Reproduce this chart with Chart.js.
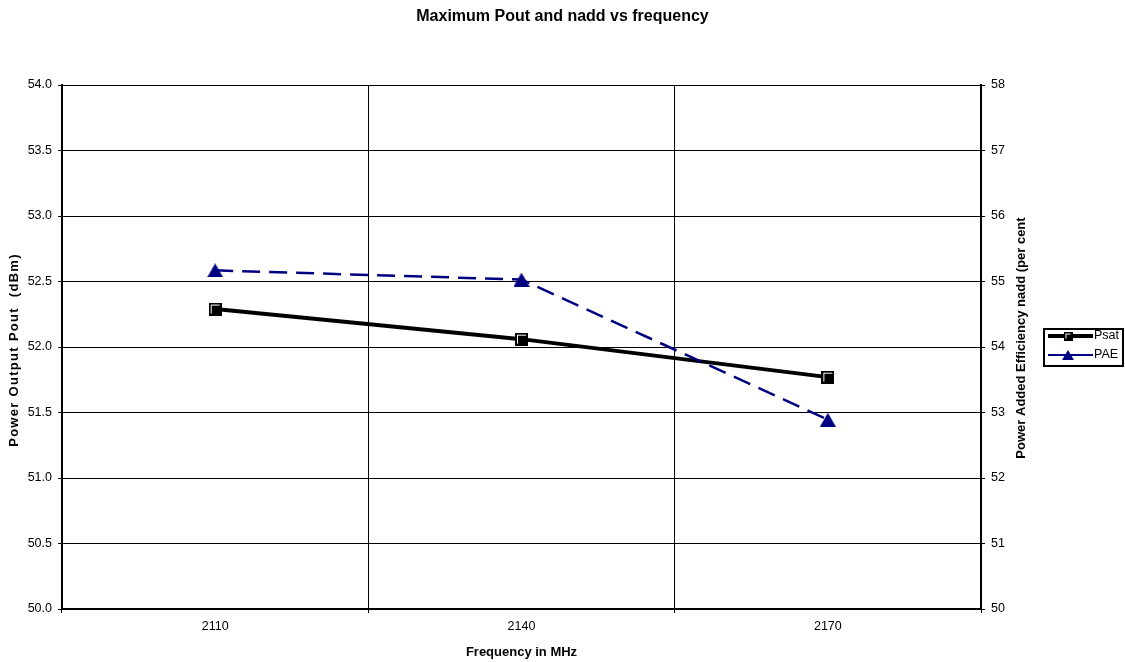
<!DOCTYPE html>
<html>
<head>
<meta charset="utf-8">
<script src="https://cdn.jsdelivr.net/npm/chart.js@4.4.1/dist/chart.umd.min.js"></script>
<style>
  html, body { margin: 0; padding: 0; background: #fff; }
  #wrap { width: 1125px; height: 662px; }
  canvas { display: block; }
</style>
</head>
<body>
<div id="wrap"><canvas id="chart" width="1125" height="662" style="width:1125px;height:662px"></canvas></div>
<script>
// Frequency points (MHz)
const frequencies = ['2110', '2140', '2170'];
// Saturated output power, dBm (left axis)
const psatValues = [52.29, 52.06, 51.77];
// Power added efficiency, per cent (right axis)
const paeValues = [55.17, 55.03, 52.89];
const seriesNames = ['Psat', 'PAE'];

const chartTitle = 'Maximum Pout and nadd vs frequency';
const xTitle = 'Frequency in MHz';
const leftTitle = 'Power Output Pout  (dBm)';
const rightTitle = 'Power Added Efficiency nadd (per cent';

const FONT = "'Liberation Sans', Arial, Helvetica, sans-serif";
const NAVY = '#000080';

Chart.defaults.font.family = FONT;
Chart.defaults.color = '#000';

// Square marker: black with a thin white inner edge on top and left
function squareMarker(size) {
  const c = document.createElement('canvas');
  c.width = size; c.height = size;
  const g = c.getContext('2d');
  g.fillStyle = '#000';
  g.fillRect(0, 0, size, size);
  g.fillStyle = '#fff';
  g.fillRect(2, 2, size - 4, 1);
  g.fillRect(2, 2, 1, size - 4);
  return c;
}

// Filled triangle marker, centred on its bounding box
function triangleMarker(w, h, color) {
  const c = document.createElement('canvas');
  c.width = w; c.height = h;
  const g = c.getContext('2d');
  g.fillStyle = color;
  g.beginPath();
  g.moveTo(w / 2, 0);
  g.lineTo(w, h);
  g.lineTo(0, h);
  g.closePath();
  g.fill();
  return c;
}

const psatMarker = squareMarker(13);
const paeMarker = triangleMarker(16, 14, NAVY);
const psatLegendMarker = squareMarker(9);
const paeLegendMarker = triangleMarker(12, 10, NAVY);

// Rotated (bottom-to-top) axis title
function verticalTitle(ctx, text, x, y, spacing) {
  ctx.save();
  ctx.fillStyle = '#000';
  ctx.font = 'bold 13px ' + FONT;
  if ('letterSpacing' in ctx) ctx.letterSpacing = spacing + 'px';
  ctx.textAlign = 'center';
  ctx.textBaseline = 'middle';
  ctx.translate(x, y);
  ctx.rotate(-Math.PI / 2);
  ctx.fillText(text, 0, 0);
  ctx.restore();
}

// Both y-axis titles and the boxed legend
const extras = {
  id: 'extras',
  afterDraw(chart) {
    const ctx = chart.ctx;
    verticalTitle(ctx, leftTitle, 14, 350, 1.3);
    verticalTitle(ctx, rightTitle, 1021, 338, 0);

    ctx.save();
    ctx.fillStyle = '#fff';
    ctx.fillRect(1044, 329, 79, 37);
    ctx.strokeStyle = '#000';
    ctx.lineWidth = 2;
    ctx.strokeRect(1044, 329, 79, 37);

    const ds = chart.data.datasets;
    const rows = [
      { y: 336, ds: ds[0], width: 4, marker: psatLegendMarker },
      { y: 355, ds: ds[1], width: 2, marker: paeLegendMarker }
    ];
    ctx.font = '12.5px ' + FONT;
    ctx.textAlign = 'left';
    ctx.textBaseline = 'middle';
    rows.forEach(r => {
      ctx.strokeStyle = r.ds.borderColor;
      ctx.lineWidth = r.width;
      ctx.setLineDash([]);
      ctx.beginPath();
      ctx.moveTo(1048, r.y);
      ctx.lineTo(1093, r.y);
      ctx.stroke();
      ctx.drawImage(r.marker, 1068 - r.marker.width / 2, r.y - r.marker.height / 2);
      ctx.fillStyle = '#000';
      ctx.fillText(r.ds.label, 1094, r.y);
    });
    ctx.restore();
  }
};

new Chart(document.getElementById('chart'), {
  type: 'line',
  data: {
    labels: frequencies,
    datasets: [
      {
        label: seriesNames[0],
        data: psatValues,
        yAxisID: 'y',
        borderColor: '#000',
        backgroundColor: '#000',
        borderWidth: 4,
        tension: 0,
        pointStyle: psatMarker,
        pointRadius: 6,
        order: 2
      },
      {
        label: seriesNames[1],
        data: paeValues,
        yAxisID: 'y2',
        borderColor: NAVY,
        backgroundColor: NAVY,
        borderWidth: 2.5,
        borderDash: [18, 9],
        tension: 0,
        pointStyle: paeMarker,
        pointRadius: 8,
        order: 1
      }
    ]
  },
  options: {
    responsive: false,
    animation: false,
    devicePixelRatio: 1,
    layout: { padding: 0 },
    plugins: {
      legend: { display: false },
      tooltip: { enabled: false },
      title: {
        display: true,
        text: chartTitle,
        color: '#000',
        font: { family: FONT, size: 16, weight: 'bold', lineHeight: 1.2 },
        padding: { top: 7.4, bottom: 58.4 }
      }
    },
    scales: {
      x: {
        type: 'category',
        offset: true,
        grid: { offset: true, color: '#000', lineWidth: 1, tickLength: 4, tickColor: '#000' },
        border: { display: true, color: '#000', width: 2 },
        ticks: { color: '#000', font: { size: 12.5 }, padding: 6, maxRotation: 0 },
        title: {
          display: true,
          text: xTitle,
          color: '#000',
          font: { size: 13, weight: 'bold', lineHeight: 1.2 },
          padding: { top: 0, bottom: 2 }
        },
        afterFit(scale) { scale.height = 53; }
      },
      y: {
        position: 'left',
        min: 50,
        max: 54,
        grid: { color: '#000', lineWidth: 1, tickLength: 4, tickColor: '#000' },
        border: { display: true, color: '#000', width: 2 },
        ticks: {
          stepSize: 0.5,
          color: '#000',
          font: { size: 12.5 },
          padding: 6,
          callback: v => Number(v).toFixed(1)
        },
        afterFit(scale) { scale.width = 62; }
      },
      y2: {
        position: 'right',
        min: 50,
        max: 58,
        grid: { drawOnChartArea: false, color: '#000', lineWidth: 1, tickLength: 4, tickColor: '#000' },
        border: { display: true, color: '#000', width: 2 },
        ticks: { stepSize: 1, color: '#000', font: { size: 12.5 }, padding: 6 },
        afterFit(scale) { scale.width = 144; }
      }
    }
  },
  plugins: [extras]
});
</script>
</body>
</html>
